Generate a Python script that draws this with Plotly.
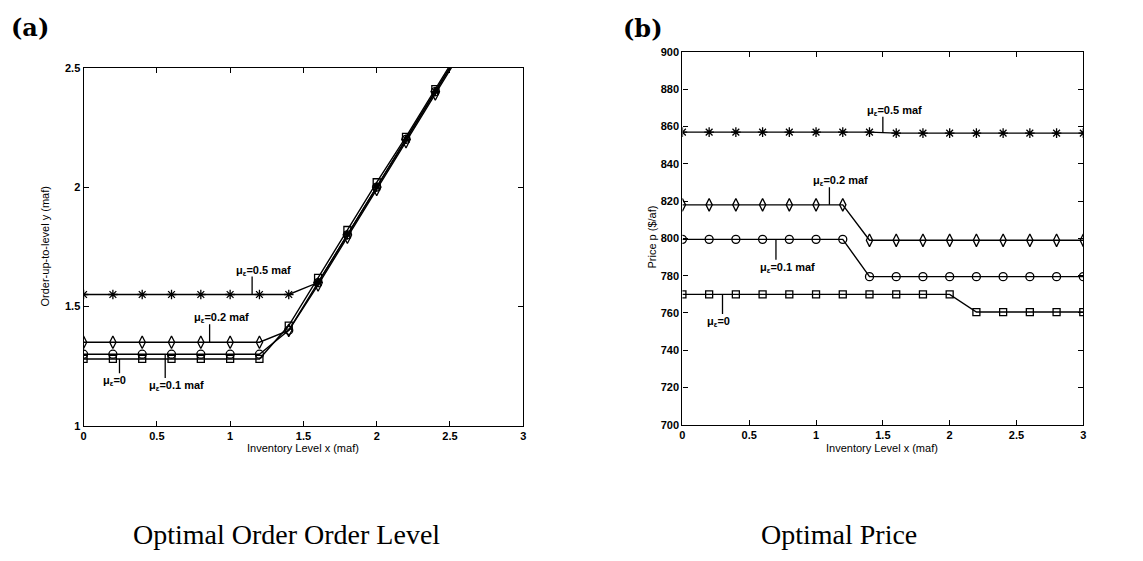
import numpy as np
import plotly.graph_objects as go

# Inventory level grid (maf)
inventory = [0.0, 0.2, 0.4, 0.6, 0.8, 1.0, 1.2, 1.4, 1.6, 1.8, 2.0, 2.2, 2.4, 2.6, 2.8, 3.0]

# Optimal order-up-to level y (maf) for each mean inflow error
order_mu05 = [1.55, 1.55, 1.55, 1.55, 1.55, 1.55, 1.55, 1.55, 1.60, 1.80, 2.00, 2.20, 2.40, 2.60, 2.80, 3.00]
order_mu02 = [1.35, 1.35, 1.35, 1.35, 1.35, 1.35, 1.35, 1.40, 1.59, 1.79, 1.99, 2.19, 2.39, 2.59, 2.79, 2.99]
order_mu01 = [1.30, 1.30, 1.30, 1.30, 1.30, 1.30, 1.30, 1.40, 1.60, 1.80, 2.00, 2.20, 2.40, 2.60, 2.80, 3.00]
order_mu00 = [1.28, 1.28, 1.28, 1.28, 1.28, 1.28, 1.28, 1.42, 1.62, 1.82, 2.02, 2.21, 2.41, 2.61, 2.81, 3.01]

# Optimal price p ($/af)
price_mu05 = [857, 857, 857, 857, 857, 857, 857, 857, 856.5, 856.5, 856.5, 856.5, 856.5, 856.5, 856.5, 856.5]
price_mu02 = [818, 818, 818, 818, 818, 818, 818, 799, 799, 799, 799, 799, 799, 799, 799, 799]
price_mu01 = [799.5, 799.5, 799.5, 799.5, 799.5, 799.5, 799.5, 779.5, 779.5, 779.5, 779.5, 779.5, 779.5, 779.5, 779.5, 779.5]
price_mu00 = [770, 770, 770, 770, 770, 770, 770, 770, 770, 770, 770, 760.5, 760.5, 760.5, 760.5, 760.5]

series_names = ["με=0.5 maf", "με=0.2 maf", "με=0.1 maf", "με=0"]
symbols = ["asterisk-open", "diamond-tall-open", "circle-open", "square-open"]
sizes = [8, 9, 8, 7]

W, H = 1143, 561
dom_a_x = [81 / W, 523 / W]
dom_a_y = [1 - 429 / H, 1 - 63 / H]
dom_b_x = [683 / W, 1086 / W]
dom_b_y = [1 - 428 / H, 1 - 47 / H]

fig = go.Figure()

order_sets = [order_mu05, order_mu02, order_mu01, order_mu00]
price_sets = [price_mu05, price_mu02, price_mu01, price_mu00]

for name, ys, sym, sz in zip(series_names, order_sets, symbols, sizes):
    fig.add_trace(go.Scatter(
        x=inventory, y=ys, mode="lines+markers", name=name, showlegend=False,
        line=dict(color="black", width=1.4),
        marker=dict(symbol=sym, size=sz, color="black", line=dict(color="black", width=1.3)),
        xaxis="x", yaxis="y"))

for name, ys, sym, sz in zip(series_names, price_sets, symbols, sizes):
    fig.add_trace(go.Scatter(
        x=inventory, y=ys, mode="lines+markers", name=name, showlegend=False,
        line=dict(color="black", width=1.4),
        marker=dict(symbol=sym, size=sz, color="black", line=dict(color="black", width=1.3)),
        xaxis="x2", yaxis="y2"))

tick_font = dict(family="Liberation Sans, Arial, sans-serif", size=11, color="black", weight="bold")
axis_common = dict(showgrid=False, zeroline=False, showline=True, linecolor="black",
                   linewidth=1.2, mirror="ticks", ticks="inside", ticklen=5,
                   tickcolor="black", tickwidth=1, tickfont=tick_font)

fig.update_layout(
    width=W, height=H, margin=dict(l=0, r=0, t=0, b=0),
    paper_bgcolor="white", plot_bgcolor="white",
    xaxis=dict(domain=dom_a_x, anchor="y", range=[0, 3],
               tickvals=[0, 0.5, 1, 1.5, 2, 2.5, 3], ticktext=["0", "0.5", "1", "1.5", "2", "2.5", "3"],
               **axis_common),
    yaxis=dict(domain=dom_a_y, anchor="x", range=[1, 2.5],
               tickvals=[1, 1.5, 2, 2.5], ticktext=["1", "1.5", "2", "2.5"], **axis_common),
    xaxis2=dict(domain=dom_b_x, anchor="y2", range=[0, 3],
                tickvals=[0, 0.5, 1, 1.5, 2, 2.5, 3], ticktext=["0", "0.5", "1", "1.5", "2", "2.5", "3"],
                **axis_common),
    yaxis2=dict(domain=dom_b_y, anchor="x2", range=[700, 900],
                tickvals=list(range(700, 901, 20)), **axis_common),
)

label_font = dict(family="Liberation Sans, Arial, sans-serif", size=11, color="black", weight="bold")


def mu_label(text_tail):
    return "μ<sub>ε</sub>=" + text_tail


# Leader-line labels: (axis suffix, series values, leader x, leader length in data units, label tail)
labels = [
    ("", order_mu05, 1.15, 0.075, "0.5 maf"),
    ("", order_mu02, 0.86, 0.075, "0.2 maf"),
    ("", order_mu00, 0.245, -0.06, "0"),
    ("", order_mu01, 0.557, -0.10, "0.1 maf"),
    ("2", price_mu05, 1.50, 8.5, "0.5 maf"),
    ("2", price_mu02, 1.10, 9.5, "0.2 maf"),
    ("2", price_mu01, 0.70, -11.0, "0.1 maf"),
    ("2", price_mu00, 0.30, -10.5, "0"),
]

for suffix, ys, lx, length, tail in labels:
    base = float(np.interp(lx, inventory, ys))
    end = base + length
    fig.add_shape(type="line", xref="x" + suffix, yref="y" + suffix,
                  x0=lx, x1=lx, y0=base, y1=end, line=dict(color="black", width=1.3))
    above = length > 0
    fig.add_annotation(x=lx, y=end, xref="x" + suffix, yref="y" + suffix,
                       text=mu_label(tail), showarrow=False, font=label_font,
                       xanchor="left", yanchor="bottom" if above else "top",
                       xshift=-18, yshift=-3 if above else 1)

title_font = dict(family="Liberation Sans, Arial, sans-serif", size=11, color="black")

# Axis titles
fig.add_annotation(x=302 / W, y=1 - 452 / H, xref="paper", yref="paper", text="Inventory Level x (maf)",
                   showarrow=False, font=title_font, xanchor="center", yanchor="middle")
fig.add_annotation(x=884 / W, y=1 - 452 / H, xref="paper", yref="paper", text="Inventory Level x (maf)",
                   showarrow=False, font=title_font, xanchor="center", yanchor="middle")
fig.add_annotation(x=42 / W, y=1 - 246 / H, xref="paper", yref="paper", text="Order-up-to-level y (maf)",
                   showarrow=False, font=title_font, textangle=-90, xanchor="center", yanchor="middle")
fig.add_annotation(x=652 / W, y=1 - 236 / H, xref="paper", yref="paper", text="Price p ($/af)",
                   showarrow=False, font=title_font, textangle=-90, xanchor="center", yanchor="middle")

# Panel tags
tag_font = dict(family="DejaVu Serif, serif", size=24, color="black")
fig.add_annotation(x=6 / W, y=1 - 22 / H, xref="paper", yref="paper", text="<b>(a)</b>",
                   showarrow=False, font=tag_font, xanchor="left", yanchor="middle")
fig.add_annotation(x=621 / W, y=1 - 23 / H, xref="paper", yref="paper", text="<b>(b)</b>",
                   showarrow=False, font=tag_font, xanchor="left", yanchor="middle")

# Captions
cap_font = dict(family="Liberation Serif, Times New Roman, serif", size=28, color="black")
fig.add_annotation(x=285 / W, y=1 - 540 / H, xref="paper", yref="paper", text="Optimal Order Order Level",
                   showarrow=False, font=cap_font, xanchor="center", yanchor="middle")
fig.add_annotation(x=840 / W, y=1 - 540 / H, xref="paper", yref="paper", text="Optimal Price",
                   showarrow=False, font=cap_font, xanchor="center", yanchor="middle")

fig.write_html("out.html")
